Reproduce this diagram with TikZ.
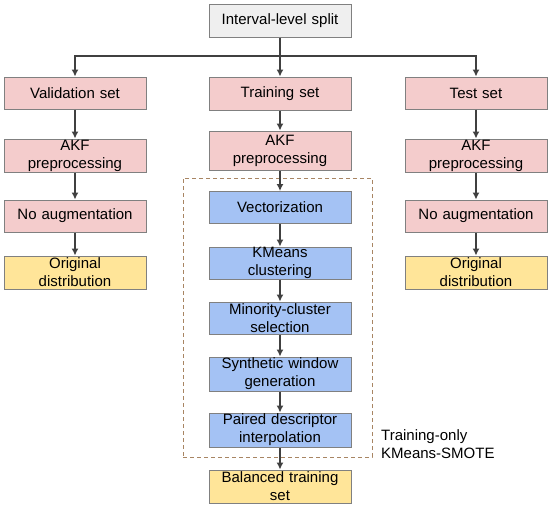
\documentclass[tikz,border=0pt]{standalone}
\usepackage{fontspec}
\setmainfont{Liberation Sans}
\usetikzlibrary{arrows.meta}
\definecolor{grayfill}{HTML}{EFEFEF}
\definecolor{pinkfill}{HTML}{F4CCCC}
\definecolor{bluefill}{HTML}{A4C2F4}
\definecolor{yellowfill}{HTML}{FFE599}
\definecolor{boxline}{HTML}{808080}
\definecolor{conn}{HTML}{404040}
\definecolor{dashbrown}{HTML}{A88563}
\begin{document}
\begin{tikzpicture}[x=1pt,y=-1pt,
  box/.style={draw=boxline, line width=1pt, minimum width=142pt, inner sep=0pt,
    align=center, text width=140pt, font=\fontsize{15}{18}\selectfont},
  graybox/.style={box, fill=grayfill},
  pinkbox/.style={box, fill=pinkfill},
  bluebox/.style={box, fill=bluefill},
  yellowbox/.style={box, fill=yellowfill},
  arr/.style={draw=conn, line width=1.2pt, -{Latex[length=7pt,width=7pt]}},
  plain/.style={draw=conn, line width=1.2pt},
  dashframe/.style={draw=dashbrown, line width=1pt, dash pattern=on 4pt off 3pt, inner sep=0pt}
]
\useasboundingbox (0,0) rectangle (550,507);

\node[graybox, minimum height=33pt] (split) at (280,20.5) {Interval-level split};

\node[pinkbox, minimum height=32pt] (val) at (75,93) {Validation set};
\node[pinkbox, minimum height=33pt] (train) at (280,93.5) {Training set};
\node[pinkbox, minimum height=32pt] (test) at (476,93) {Test set};

\node[pinkbox, minimum height=33pt] (akfL) at (75,155.5) {AKF\\preprocessing};
\node[pinkbox, minimum height=39pt] (akfM) at (280,150.5) {AKF\\preprocessing};
\node[pinkbox, minimum height=33pt] (akfR) at (476,155.5) {AKF\\preprocessing};

\node[pinkbox, minimum height=32pt] (noL) at (75,216) {No augmentation};
\node[pinkbox, minimum height=32pt] (noR) at (476,216) {No augmentation};

\node[yellowbox, minimum height=33pt] (origL) at (75,272.5) {Original\\distribution};
\node[yellowbox, minimum height=33pt] (origR) at (476,272.5) {Original\\distribution};

\node[dashframe, minimum width=189pt, minimum height=279pt] (smote) at (277.5,317.5) {};

\node[bluebox, minimum height=32pt] (vec) at (280,207.5) {Vectorization};
\node[bluebox, minimum height=32pt] (kme) at (280,263) {KMeans\\clustering};
\node[bluebox, minimum height=32pt] (mino) at (280,318) {Minority-cluster\\selection};
\node[bluebox, minimum height=34pt] (syn) at (280,374) {Synthetic window\\generation};
\node[bluebox, minimum height=34pt] (pai) at (280,430) {Paired descriptor\\interpolation};
\node[yellowbox, minimum height=33pt] (bal) at (280,486.5) {Balanced training\\set};

\node[anchor=west, align=left, inner sep=0pt, font=\fontsize{15}{18}\selectfont] (lbl) at (381,444) {Training-only\\KMeans-SMOTE};

\coordinate (hl) at (280,56);
\draw[plain] (split.south) -- (hl);
\draw[arr] (hl) -| (val.north);
\draw[arr] (hl) -| (test.north);
\draw[arr] (split.south) -- (train.north);

\draw[arr] (val) -- (akfL);
\draw[arr] (akfL) -- (noL);
\draw[arr] (noL) -- (origL);

\draw[arr] (test) -- (akfR);
\draw[arr] (akfR) -- (noR);
\draw[arr] (noR) -- (origR);

\draw[arr] (train) -- (akfM);
\draw[arr] (akfM) -- (vec);
\draw[arr] (vec) -- (kme);
\draw[arr] (kme) -- (mino);
\draw[arr] (mino) -- (syn);
\draw[arr] (syn) -- (pai);
\draw[arr] (pai) -- (bal);
\end{tikzpicture}
\end{document}
